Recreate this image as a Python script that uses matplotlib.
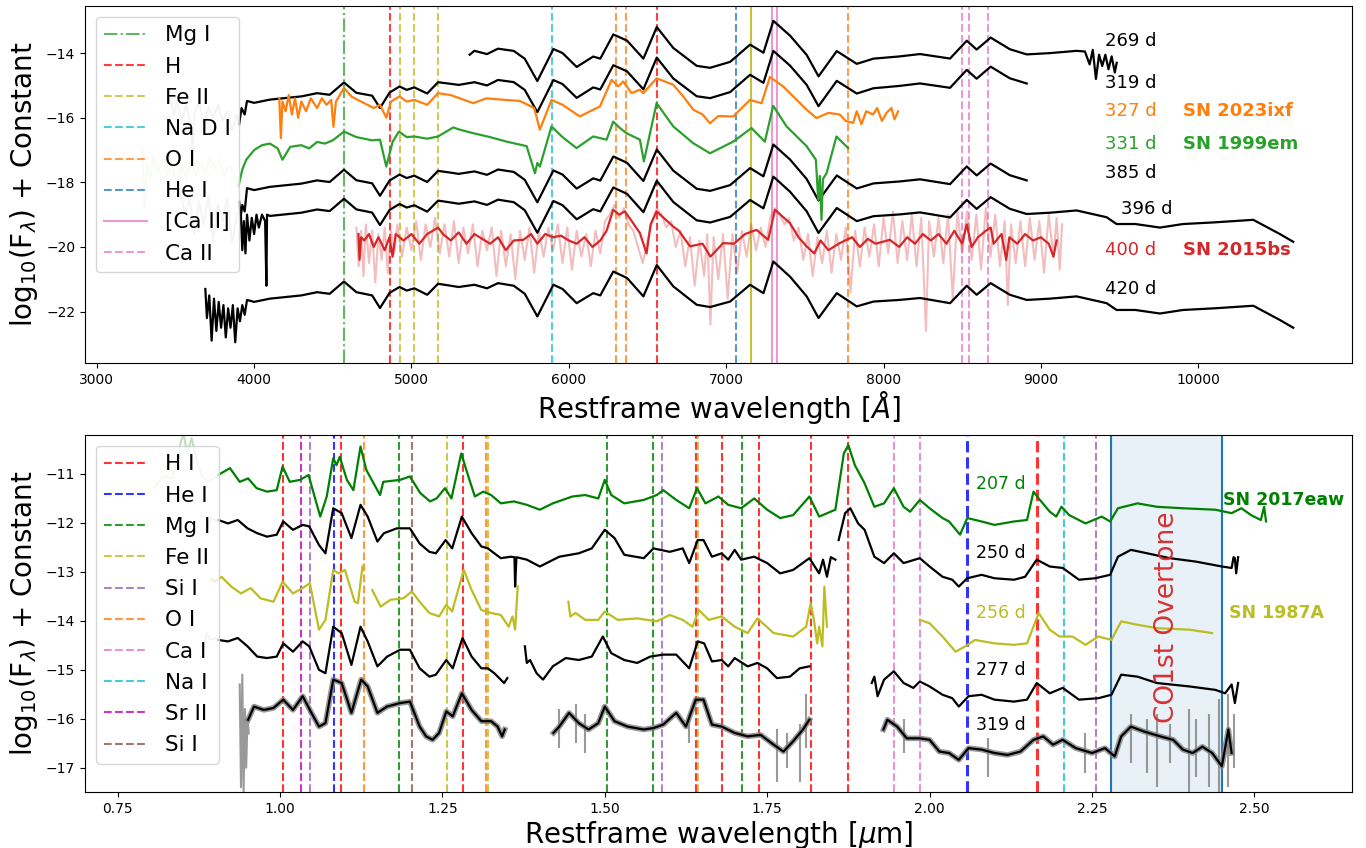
import numpy as np
import matplotlib
matplotlib.use("Agg")
import matplotlib.pyplot as plt

# ---------------- optical panel data (wavelength in Angstrom) ----------------
# relative spectral template of the late-time black spectra
tmpl_wl = [3955, 4000, 4100, 4200, 4300, 4400, 4480, 4571, 4650, 4750, 4800, 4861, 4924,
           4970, 5018, 5100, 5169, 5250, 5300, 5400, 5480, 5550, 5650, 5720, 5800, 5902,
           5960, 6050, 6155, 6200, 6283, 6370, 6474, 6559, 6664, 6813, 6898, 7025, 7152,
           7237, 7300, 7406, 7512, 7587, 7703, 7830, 7936, 8100, 8232, 8423, 8529, 8592,
           8681, 8803, 8910, 9058, 9227, 9418, 9481, 9600, 9757, 9904, 10100, 10350,
           10519, 10604]
tmpl_flux = [-21.64, -21.7, -21.6, -21.55, -21.5, -21.4, -21.45, -21.07, -21.4, -21.5,
             -21.89, -21.42, -21.24, -21.35, -21.28, -21.48, -21.14, -21.2, -21.24, -21.17,
             -21.28, -21.12, -21.2, -21.45, -22.15, -21.17, -21.3, -21.74, -21.43, -21.5,
             -20.76, -20.96, -21.53, -20.56, -21.22, -21.79, -21.86, -21.69, -21.17, -21.43,
             -20.45, -20.92, -21.53, -22.2, -21.43, -21.84, -21.69, -21.64, -21.58, -21.74,
             -21.2, -21.48, -21.12, -21.48, -21.64, -21.6, -21.53, -21.74, -21.95, -21.95,
             -22.06, -21.95, -21.9, -21.82, -22.26, -22.5]

black_days = ["269 d", "319 d", "385 d", "396 d", "420 d"]
black_start = [5370, 3950, 3950, 4100, 3955]
black_end = [9250, 8910, 8910, 10604, 10604]
black_off_blue = [7.15, 6.16, 3.46, 2.56, 0.0]   # offset near 4571 A
black_off_red = [7.6, 6.7, 3.7, 2.66, 0.0]       # offset near 8681 A

# noisy pieces at the ends of the black spectra
blue_269_wl = [5370]
blue_269_fx = [-14.05]
red_269_wl = [9280, 9310, 9330, 9350, 9370, 9390, 9410, 9430, 9450, 9470, 9482]
red_269_fx = [-13.95, -14.35, -13.9, -14.8, -14.05, -14.4, -14.05, -14.5, -14.1, -14.6, -14.3]
blue_319_wl = [3905, 3920, 3940]
blue_319_fx = [-16.2, -15.7, -15.9]
blue_385_wl = [3905, 3915, 3925, 3940]
blue_385_fx = [-18.6, -19.05, -18.7, -18.9]
blue_396_wl = [3915, 3925, 3935, 3945, 3955, 3970, 3985, 4000, 4015, 4030, 4050, 4070, 4078, 4082]
blue_396_fx = [-18.9, -20.1, -19.2, -20.2, -19.0, -19.8, -19.1, -19.6, -19.0, -19.4, -19.0,
               -19.2, -21.2, -19.0]
blue_420_wl = [3690, 3700, 3715, 3730, 3745, 3760, 3775, 3790, 3805, 3820, 3835, 3850, 3865,
               3880, 3895, 3910, 3925, 3940]
blue_420_fx = [-21.3, -22.2, -21.5, -22.9, -21.6, -22.6, -21.7, -22.5, -21.8, -22.8, -21.9,
               -22.5, -21.8, -22.95, -21.9, -22.3, -21.8, -22.1]

gray_319_wl = [3466, 3490, 3510, 3540, 3570, 3600, 3610, 3620, 3650, 3680, 3710, 3740, 3770,
               3800, 3830, 3860, 3890, 3905]
gray_319_fx = [-15.4, -15.9, -15.5, -16.1, -15.6, -16.3, -17.1, -15.9, -15.5, -16.2, -15.7,
               -16.0, -15.6, -16.1, -15.8, -16.4, -15.9, -16.2]
gray_396_wl = [3530, 3560, 3590, 3620, 3650, 3680, 3710, 3740, 3770, 3800, 3830, 3860, 3890, 3915]
gray_396_fx = [-18.2, -19.0, -18.5, -19.6, -18.6, -19.3, -18.4, -19.8, -18.7, -19.2, -18.5,
               -19.9, -19.0, -18.9]

# SN 2023ixf, 327 d
ixf_wl = [4160, 4170, 4180, 4200, 4220, 4240, 4260, 4280, 4300, 4330, 4360, 4400, 4430, 4460,
          4490, 4504, 4520, 4571, 4620, 4700, 4760, 4800, 4840, 4870, 4924, 4970, 5018, 5100,
          5169, 5250, 5393, 5476, 5600, 5689, 5780, 5816, 5890, 5960, 6070, 6198, 6272, 6314,
          6346, 6399, 6452, 6473, 6558, 6664, 6727, 6791, 6850, 6897, 6950, 7045, 7151, 7225,
          7278, 7362, 7511, 7574, 7650, 7722, 7760, 7807, 7830, 7860, 7890, 7934, 7960, 7990,
          8019, 8050, 8070, 8093]
ixf_fx = [-15.4, -16.63, -15.5, -15.8, -15.3, -15.9, -15.4, -16.0, -15.5, -15.8, -15.4, -15.7,
          -15.4, -15.6, -15.45, -16.28, -15.5, -15.08, -15.35, -15.55, -15.7, -15.6, -16.0,
          -15.5, -15.34, -15.5, -15.45, -15.6, -15.24, -15.3, -15.55, -15.4, -15.45, -15.48,
          -15.7, -16.37, -15.45, -15.6, -15.96, -15.65, -14.83, -15.03, -14.88, -15.24, -15.13,
          -15.24, -14.78, -14.98, -15.34, -15.75, -15.9, -16.17, -15.95, -15.96, -15.45, -15.55,
          -14.74, -15.03, -15.75, -16.01, -15.85, -15.9, -16.1, -16.16, -15.8, -16.2, -15.8,
          -15.9, -15.7, -16.1, -15.85, -15.7, -16.05, -15.8]

# SN 1999em, 331 d (faded blue part + main part)
em_faint_wl = [3290, 3305, 3320, 3340, 3360, 3390, 3420, 3450, 3480, 3510, 3540, 3570, 3600,
               3630, 3660, 3690, 3720, 3750, 3780, 3810, 3840, 3870, 3900]
em_faint_fx = [-17.0, -18.8, -17.4, -17.9, -17.2, -17.7, -17.3, -17.8, -17.4, -18.2, -17.5,
               -17.9, -17.3, -17.8, -17.4, -17.7, -17.2, -17.6, -17.3, -17.8, -17.5, -17.7, -18.1]
em_wl = [3900, 3925, 3950, 4000, 4050, 4100, 4150, 4180, 4230, 4300, 4350, 4400, 4450, 4500,
         4571, 4650, 4750, 4800, 4840, 4880, 4920, 4970, 5018, 5100, 5169, 5266, 5300, 5393,
         5500, 5605, 5732, 5785, 5800, 5816, 5890, 5960, 6049, 6155, 6240, 6282, 6320, 6367,
         6452, 6477, 6558, 6664, 6791, 6897, 7045, 7161, 7246, 7299, 7384, 7511, 7570, 7585,
         7595, 7606, 7615, 7638, 7701, 7775]
em_fx = [-18.13, -17.6, -17.3, -17.0, -16.85, -16.8, -16.95, -17.3, -16.9, -16.85, -16.95,
         -16.75, -16.8, -16.7, -16.43, -16.6, -16.7, -16.68, -17.51, -16.75, -16.43, -16.6,
         -16.58, -16.65, -16.58, -16.3, -16.36, -16.48, -16.6, -16.74, -16.88, -17.72, -17.4,
         -17.51, -16.27, -16.6, -16.94, -16.58, -16.68, -16.12, -16.3, -16.48, -16.68, -17.35,
         -15.55, -16.27, -16.79, -17.1, -16.74, -16.32, -16.74, -15.63, -16.27, -16.88, -17.3,
         -18.54, -17.8, -19.16, -17.9, -17.72, -16.58, -16.94]

# SN 2015bs, 400 d (binned + raw)
bs_wl = [4663, 4670, 4680, 4700, 4730, 4760, 4790, 4830, 4860, 4880, 4900, 4950, 5000, 5050,
         5100, 5169, 5200, 5250, 5300, 5350, 5400, 5450, 5500, 5550, 5600, 5650, 5711, 5760,
         5800, 5850, 5900, 5950, 6000, 6050, 6100, 6150, 6200, 6240, 6282, 6320, 6356, 6400,
         6452, 6494, 6520, 6558, 6664, 6700, 6770, 6850, 6900, 6981, 7050, 7120, 7193, 7267,
         7310, 7405, 7460, 7511, 7560, 7600, 7650, 7722, 7800, 7850, 7900, 7950, 8040, 8100,
         8150, 8200, 8250, 8300, 8350, 8400, 8450, 8500, 8529, 8560, 8600, 8650, 8681, 8700,
         8750, 8780, 8800, 8850, 8900, 8950, 9000, 9050, 9080, 9100]
bs_fx = [-19.6, -20.4, -19.7, -19.8, -19.6, -20.0, -19.7, -20.1, -19.7, -20.3, -19.6, -19.8,
         -19.6, -19.9, -19.6, -19.4, -19.6, -19.8, -19.55, -19.9, -19.6, -19.75, -19.9, -19.7,
         -20.1, -19.8, -19.78, -19.6, -19.9, -19.6, -19.7, -19.65, -19.8, -19.9, -19.7, -20.0,
         -19.8, -19.5, -18.85, -19.0, -18.9, -19.2, -19.57, -20.2, -19.3, -18.9, -19.37, -19.5,
         -19.98, -19.9, -20.3, -19.88, -19.9, -19.6, -19.47, -19.78, -18.85, -19.26, -19.7,
         -19.98, -20.2, -19.8, -20.1, -19.88, -19.7, -20.0, -19.75, -19.9, -19.78, -20.0, -19.7,
         -19.9, -19.6, -19.8, -19.6, -19.9, -19.5, -19.9, -19.3, -20.0, -19.7, -19.5, -19.4,
         -19.9, -19.6, -20.4, -19.7, -19.9, -19.6, -19.8, -19.7, -19.9, -20.3, -19.8]
bs_raw_wl = [4650, 4665, 4680, 4695, 4710, 4730, 4750, 4770, 4790, 4810, 4830, 4850, 4870,
             4890, 4910, 4940, 4970, 5000, 5030, 5060, 5090, 5120, 5150, 5180, 5210, 5240,
             5270, 5300, 5330, 5360, 5390, 5420, 5450, 5480, 5510, 5540, 5570, 5600, 5630,
             5660, 5690, 5720, 5750, 5780, 5810, 5840, 5870, 5900, 5930, 5960, 5990, 6020,
             6050, 6080, 6110, 6140, 6170, 6200, 6230, 6260, 6290, 6320, 6350, 6380, 6410,
             6440, 6470, 6500, 6530, 6560, 6590, 6620, 6650, 6680, 6710, 6740, 6770, 6800,
             6830, 6860, 6880, 6900, 6920, 6950, 6980, 7010, 7040, 7070, 7100, 7130, 7160,
             7190, 7220, 7250, 7280, 7310, 7340, 7370, 7400, 7430, 7460, 7490, 7520, 7550,
             7580, 7610, 7640, 7670, 7700, 7730, 7760, 7790, 7820, 7850, 7880, 7910, 7940,
             7970, 8000, 8030, 8060, 8090, 8120, 8150, 8180, 8210, 8240, 8270, 8290, 8320,
             8350, 8380, 8410, 8440, 8470, 8500, 8530, 8560, 8590, 8620, 8650, 8680, 8710,
             8740, 8770, 8790, 8810, 8840, 8870, 8900, 8930, 8960, 8990, 9020, 9050, 9080,
             9100, 9120, 9135]
bs_raw_fx = [-19.4, -20.6, -19.5, -20.9, -19.3, -20.5, -19.5, -21.1, -19.6, -20.4, -19.4,
             -20.8, -19.5, -20.2, -19.3, -20.3, -19.4, -20.1, -19.2, -20.4, -19.3, -20.0,
             -19.1, -20.2, -19.3, -20.3, -19.2, -20.5, -19.4, -20.2, -19.3, -20.6, -19.5,
             -20.1, -19.4, -20.9, -19.5, -20.6, -19.6, -21.0, -19.5, -20.4, -19.4, -20.8,
             -19.5, -20.3, -19.4, -20.1, -19.3, -20.5, -19.4, -20.7, -19.5, -20.3, -19.6,
             -20.6, -19.5, -20.2, -19.2, -19.0, -18.7, -19.1, -18.8, -19.3, -19.5, -20.0,
             -20.5, -19.8, -19.2, -18.8, -19.0, -19.4, -19.2, -20.0, -19.5, -20.6, -19.7,
             -21.2, -19.8, -20.9, -19.6, -22.4, -19.7, -21.0, -19.6, -21.6, -19.6, -20.8,
             -19.5, -20.3, -19.3, -20.1, -19.4, -20.0, -19.1, -18.8, -19.0, -19.3, -19.1,
             -19.8, -19.4, -20.4, -19.6, -20.9, -19.7, -20.5, -19.5, -20.8, -19.6, -20.4,
             -19.4, -21.4, -19.5, -20.6, -19.4, -20.3, -19.3, -20.6, -19.1, -20.2, -18.9,
             -20.5, -19.2, -20.4, -19.0, -20.6, -19.1, -22.6, -19.2, -20.3, -19.1, -20.5,
             -19.0, -21.6, -18.9, -20.2, -18.9, -20.4, -19.0, -20.7, -18.8, -20.3, -19.0,
             -20.6, -19.2, -21.8, -19.3, -20.5, -19.2, -20.6, -19.1, -20.4, -19.2, -20.8,
             -19.0, -20.3, -19.1, -20.7, -19.3]

opt_text = [("269 d", 9407, -13.61, "black"), ("319 d", 9407, -14.91, "black"),
            ("327 d", 9407, -15.79, "tab:orange"), ("331 d", 9407, -16.81, "tab:green"),
            ("385 d", 9407, -17.70, "black"), ("396 d", 9509, -18.81, "black"),
            ("400 d", 9407, -20.09, "tab:red"), ("420 d", 9407, -21.29, "black")]
opt_names = [("SN 2023ixf", 9905, -15.79, "tab:orange"), ("SN 1999em", 9905, -16.81, "tab:green"),
             ("SN 2015bs", 9905, -20.09, "tab:red")]

# line identifications (optical)
opt_lines = [
    ("Mg I", [4571], "tab:green", "-."),
    ("H", [4861, 6563], "red", "--"),
    ("Fe II", [4924, 5018, 5169], "tab:olive", "--"),
    ("Na D I", [5892], "tab:cyan", "--"),
    ("O I", [6300, 6364, 7774], "tab:orange", "--"),
    ("He I", [7065], "tab:blue", "--"),
    ("[Ca II]", [7291, 7324], "tab:pink", "-"),
    ("Ca II", [8498, 8542, 8662], "tab:pink", "--"),
]
fe_forbidden = [7155]

# ---------------- NIR panel data (wavelength in micron) ----------------
eaw_faint_wl = [0.808, 0.82, 0.835, 0.848, 0.852, 0.857, 0.864, 0.872, 0.88, 0.89, 0.905]
eaw_faint_fx = [-11.26, -11.05, -11.09, -10.31, -10.2, -10.58, -10.27, -10.71, -11.05, -11.16, -11.02]
eaw_wl = [0.905, 0.923, 0.938, 0.951, 0.964, 0.980, 0.995, 1.004, 1.015, 1.031, 1.044, 1.049,
          1.062, 1.072, 1.082, 1.087, 1.092, 1.103, 1.113, 1.124, 1.133, 1.154, 1.159, 1.185,
          1.200, 1.216, 1.231, 1.241, 1.254, 1.264, 1.279, 1.290, 1.300, 1.313, 1.325, 1.340,
          1.36, 1.38, 1.40, 1.42, 1.45, 1.47, 1.49, 1.50, 1.51, 1.53, 1.56, 1.58, 1.59, 1.61,
          1.63, 1.642, 1.655, 1.675, 1.69, 1.71, 1.73, 1.75, 1.77, 1.79, 1.815, 1.83, 1.855,
          1.868, 1.875, 1.885, 1.90, 1.915, 1.93, 1.945, 1.96, 1.97, 1.985, 2.00, 2.02, 2.03,
          2.047, 2.058, 2.08, 2.10, 2.13, 2.150, 2.160, 2.168, 2.185, 2.195, 2.203, 2.215, 2.24,
          2.265, 2.278, 2.29, 2.32, 2.35, 2.39, 2.44, 2.465, 2.48, 2.495, 2.51, 2.515, 2.518]
eaw_fx = [-11.02, -10.88, -11.16, -11.09, -11.29, -11.36, -11.33, -10.85, -11.16, -11.12,
          -11.02, -11.26, -11.87, -11.46, -10.68, -10.82, -10.65, -11.12, -11.33, -10.44, -10.92,
          -11.43, -11.16, -11.12, -11.05, -11.39, -11.56, -11.5, -11.29, -11.5, -10.58, -11.05,
          -11.46, -11.36, -11.43, -11.6, -11.56, -11.63, -11.73, -11.6, -11.46, -11.43, -11.5,
          -11.12, -11.43, -11.6, -11.53, -11.43, -11.33, -11.53, -11.7, -11.29, -11.6, -11.46,
          -11.63, -11.7, -11.5, -11.73, -11.9, -11.84, -11.46, -11.87, -11.73, -10.58, -10.41,
          -10.82, -11.19, -11.67, -11.6, -11.29, -11.67, -11.77, -11.53, -11.7, -11.9, -11.97,
          -12.24, -11.9, -11.97, -12.04, -11.97, -11.94, -11.36, -11.5, -11.77, -11.87, -11.67,
          -11.84, -12.01, -11.87, -11.97, -11.7, -11.6, -11.67, -11.7, -11.73, -11.8, -11.7,
          -11.84, -11.94, -11.67, -11.97]

d250_faint_wl = [0.887, 0.893, 0.90, 0.905]
d250_faint_fx = [-12.14, -11.9, -11.94, -11.94]
d250_wl = [[0.905, 0.92, 0.935, 0.95, 0.965, 0.98, 0.995, 1.005, 1.02, 1.035, 1.045, 1.06, 1.07,
            1.082, 1.095, 1.11, 1.124, 1.135, 1.15, 1.16, 1.18, 1.20, 1.215, 1.23, 1.24, 1.255,
            1.265, 1.28, 1.295, 1.31, 1.32, 1.34, 1.355, 1.361, 1.362, 1.364, 1.38, 1.40, 1.43,
            1.46, 1.48, 1.50, 1.515, 1.53, 1.56, 1.575, 1.60, 1.62, 1.63, 1.643, 1.652, 1.665,
            1.68, 1.69, 1.70, 1.71, 1.73, 1.75, 1.77, 1.79, 1.815, 1.83, 1.836, 1.842, 1.848,
            1.855],
           [1.86, 1.87, 1.878, 1.89, 1.90, 1.915, 1.93, 1.945, 1.96, 1.985, 2.00, 2.02, 2.035,
            2.045, 2.058, 2.08, 2.10, 2.13, 2.147, 2.165, 2.185, 2.205, 2.23, 2.255, 2.278, 2.29,
            2.31, 2.335, 2.37, 2.41, 2.45, 2.465, 2.468, 2.47, 2.472, 2.475]]
d250_fx = [[-11.94, -12.01, -11.94, -12.11, -12.21, -12.28, -12.24, -11.97, -12.14, -12.04,
            -12.07, -12.45, -12.62, -11.7, -11.8, -12.31, -11.63, -11.87, -12.38, -12.21, -12.11,
            -12.11, -12.42, -12.59, -12.62, -12.35, -12.52, -11.87, -12.21, -12.48, -12.52,
            -12.72, -12.69, -12.7, -13.3, -12.7, -12.75, -12.89, -12.69, -12.62, -12.52, -12.14,
            -12.31, -12.65, -12.72, -12.52, -12.59, -12.52, -12.82, -12.35, -12.35, -12.69,
            -12.62, -12.75, -12.55, -12.75, -12.69, -12.82, -13.03, -12.96, -12.72, -13.03,
            -12.75, -13.1, -12.7, -12.75],
           [-12.35, -11.8, -11.7, -12.01, -12.14, -12.69, -12.82, -12.62, -12.82, -12.72, -12.89,
            -13.1, -13.16, -13.3, -13.13, -13.06, -13.13, -13.16, -13.1, -12.75, -12.89, -12.92,
            -13.16, -13.13, -13.06, -12.69, -12.55, -12.62, -12.72, -12.79, -12.89, -12.92,
            -12.7, -12.72, -13.03, -12.7]]

a87_wl = [[0.895, 0.90, 0.91, 0.925, 0.94, 0.955, 0.97, 0.99, 1.004, 1.02, 1.035, 1.046, 1.06,
           1.07, 1.082, 1.09, 1.10, 1.115, 1.12, 1.127],
          [1.142, 1.155, 1.17, 1.19, 1.203, 1.215, 1.23, 1.245, 1.256, 1.265, 1.27, 1.283, 1.295,
           1.31, 1.325, 1.34, 1.352, 1.358, 1.362, 1.366],
          [1.444, 1.447, 1.455, 1.47, 1.49, 1.50, 1.52, 1.55, 1.58, 1.60, 1.62, 1.635, 1.645,
           1.66, 1.68, 1.70, 1.72, 1.735, 1.76, 1.79, 1.81, 1.817, 1.822, 1.827, 1.83, 1.835,
           1.838, 1.842],
          [1.985, 2.00, 2.02, 2.04, 2.055, 2.07, 2.10, 2.13, 2.15, 2.168, 2.185, 2.20, 2.22, 2.24,
           2.26, 2.28, 2.295, 2.32, 2.35, 2.40, 2.435]]
a87_fx = [[-13.15, -13.2, -13.1, -13.3, -13.44, -13.33, -13.54, -13.61, -13.2, -13.44, -13.33,
           -13.23, -14.18, -13.98, -12.96, -13.03, -12.96, -13.61, -13.64, -12.89],
          [-13.37, -13.71, -13.57, -13.54, -13.4, -13.61, -13.84, -13.91, -13.67, -13.81, -13.57,
           -12.96, -13.37, -13.78, -13.84, -13.88, -14.12, -13.91, -14.18, -13.3],
          [-13.61, -13.91, -13.84, -13.98, -13.98, -13.81, -13.98, -13.95, -14.01, -13.88, -13.98,
           -14.12, -13.78, -13.98, -13.91, -14.12, -14.25, -13.95, -14.25, -14.32, -14.12,
           -13.64, -13.98, -14.46, -14.12, -14.52, -13.3, -14.12],
          [-13.98, -14.05, -14.32, -14.63, -14.52, -14.39, -14.46, -14.49, -14.46, -13.84, -14.18,
           -14.32, -14.32, -14.49, -14.32, -14.39, -14.01, -14.08, -14.15, -14.18, -14.25]]

d277_faint_wl = [0.882, 0.887, 0.893, 0.90, 0.905]
d277_faint_fx = [-14.59, -14.25, -14.39, -14.35, -14.39]
d277_wl = [[0.905, 0.92, 0.935, 0.95, 0.965, 0.98, 0.995, 1.005, 1.02, 1.035, 1.045, 1.06, 1.07,
            1.082, 1.095, 1.11, 1.124, 1.135, 1.15, 1.165, 1.185, 1.20, 1.215, 1.23, 1.24, 1.256,
            1.266, 1.281, 1.295, 1.31, 1.32, 1.33, 1.345, 1.35],
           [1.377, 1.38, 1.385, 1.395, 1.405, 1.42, 1.44, 1.46, 1.48, 1.497, 1.51, 1.53, 1.55,
            1.57, 1.59, 1.61, 1.63, 1.643, 1.653, 1.665, 1.68, 1.69, 1.70, 1.72, 1.735, 1.75,
            1.765, 1.785, 1.80, 1.815],
           [1.911, 1.915, 1.92, 1.93, 1.945, 1.96, 1.975, 1.985, 2.00, 2.02, 2.035, 2.045, 2.06,
            2.08, 2.10, 2.13, 2.15, 2.165, 2.185, 2.205, 2.23, 2.26, 2.28, 2.295, 2.32, 2.35,
            2.40, 2.44, 2.455, 2.465, 2.47, 2.475]]
d277_fx = [[-14.39, -14.42, -14.35, -14.52, -14.73, -14.76, -14.73, -14.46, -14.63, -14.42,
            -14.52, -15.0, -15.07, -14.12, -14.25, -14.9, -14.12, -14.42, -14.93, -14.73, -14.59,
            -14.59, -14.97, -15.14, -15.1, -14.8, -14.97, -14.35, -14.73, -14.97, -14.97, -15.07,
            -15.27, -15.17],
           [-14.52, -14.86, -14.8, -15.07, -15.2, -14.93, -14.76, -14.8, -14.73, -14.32, -14.66,
            -14.8, -14.86, -14.73, -14.69, -14.69, -14.97, -14.42, -14.46, -14.83, -14.8, -14.93,
            -14.76, -14.93, -14.86, -14.97, -15.17, -15.14, -14.97, -14.93],
           [-15.27, -15.14, -15.54, -15.2, -15.03, -15.27, -15.37, -15.24, -15.34, -15.51, -15.58,
            -15.75, -15.54, -15.51, -15.61, -15.65, -15.61, -15.27, -15.48, -15.37, -15.61, -15.58,
            -15.51, -15.1, -15.14, -15.27, -15.34, -15.41, -15.48, -15.3, -15.68, -15.27]]

d319_wl = [[0.951, 0.96, 0.975, 0.99, 1.005, 1.02, 1.035, 1.046, 1.06, 1.07, 1.082, 1.095, 1.11,
            1.125, 1.135, 1.15, 1.165, 1.185, 1.20, 1.215, 1.225, 1.235, 1.245, 1.256, 1.266,
            1.28, 1.295, 1.31, 1.325, 1.335, 1.342, 1.346],
           [1.421, 1.43, 1.445, 1.46, 1.475, 1.49, 1.50, 1.515, 1.535, 1.56, 1.575, 1.59, 1.61,
            1.625, 1.64, 1.652, 1.665, 1.68, 1.70, 1.72, 1.74, 1.76, 1.775, 1.79, 1.805, 1.815],
           [1.929, 1.935, 1.95, 1.965, 1.985, 2.00, 2.015, 2.03, 2.045, 2.06, 2.08, 2.10, 2.12,
            2.14, 2.16, 2.175, 2.19, 2.205, 2.225, 2.25, 2.27, 2.285, 2.295, 2.31, 2.33, 2.355,
            2.375, 2.39, 2.405, 2.42, 2.435, 2.45, 2.46, 2.465]]
d319_fx = [[-16.02, -15.75, -15.82, -15.78, -15.61, -15.82, -15.54, -15.82, -16.16, -16.09, -15.2,
            -15.27, -15.88, -15.2, -15.34, -15.88, -15.75, -15.68, -15.65, -16.16, -16.36, -16.43,
            -16.29, -15.85, -15.95, -15.48, -15.82, -16.05, -16.05, -16.16, -16.36, -16.22],
           [-16.29, -16.16, -15.88, -16.09, -16.22, -16.09, -15.75, -16.05, -16.16, -16.22, -16.19,
            -16.12, -15.88, -16.16, -15.61, -15.61, -16.12, -16.16, -16.29, -16.36, -16.33,
            -16.53, -16.67, -16.46, -16.22, -16.02],
           [-16.22, -16.02, -16.16, -16.4, -16.4, -16.43, -16.67, -16.7, -16.84, -16.6, -16.63,
            -16.7, -16.74, -16.67, -16.43, -16.36, -16.53, -16.43, -16.6, -16.7, -16.6, -16.77,
            -16.36, -16.16, -16.26, -16.36, -16.43, -16.63, -16.7, -16.57, -16.7, -16.97, -16.22,
            -16.7]]
d319_noise_wl = [0.938, 0.940, 0.942, 0.944, 0.946, 0.948, 0.950, 0.952]
d319_noise_fx = [-15.3, -17.4, -15.1, -17.5, -15.8, -17.0, -16.0, -16.3]
# gray spikes of the unbinned 319 d spectrum
spike_wl = [1.43, 1.455, 1.47, 1.63, 1.765, 1.78, 1.8, 1.81, 2.31, 2.335, 2.35, 2.37, 2.40, 2.41,
            2.43, 2.445, 2.46, 2.468, 2.09, 2.24, 1.96]
spike_lo = [-16.6, -16.5, -16.7, -16.5, -17.3, -17.0, -17.3, -16.6, -16.9, -17.1, -17.4, -16.9,
            -17.5, -17.2, -17.4, -17.5, -17.4, -17.0, -17.2, -17.1, -16.7]
spike_hi = [-15.8, -15.7, -15.9, -15.9, -16.2, -16.3, -16.1, -15.5, -15.9, -16.0, -15.9, -16.1,
            -15.8, -16.0, -15.9, -15.6, -15.5, -15.9, -16.4, -16.3, -16.0]

nir_text = [("207 d", 2.0714, -11.21, "green"), ("250 d", 2.0714, -12.62, "black"),
            ("256 d", 2.0714, -13.83, "tab:olive"), ("277 d", 2.0714, -15.01, "black"),
            ("319 d", 2.0714, -16.12, "black")]
nir_names = [("SN 2017eaw", 2.4512, -11.53, "green"), ("SN 1987A", 2.4614, -13.83, "tab:olive")]

nir_lines = [
    ("H I", [1.0049, 1.0938, 1.2818, 1.6411, 1.6811, 1.7367, 1.8179, 1.8751, 2.1655], "red"),
    ("He I", [1.0830, 2.0581], "blue"),
    ("Mg I", [1.1828, 1.5040, 1.5749, 1.7109], "green"),
    ("Fe II", [1.2567, 1.3206, 1.6440], "tab:olive"),
    ("Si I", [1.0462, 1.5888, 2.2566], "tab:purple"),
    ("O I", [1.1287, 1.3165], "tab:orange"),
    ("Ca I", [1.9453, 1.9850], "tab:pink"),
    ("Na I", [2.2062], "tab:cyan"),
    ("Sr II", [1.0327], "m"),
    ("Si I", [1.2032], "tab:brown"),
]
thick_lines = [2.0581, 2.1655]
co_band = (2.28, 2.45)

# ---------------- figure ----------------
fig = plt.figure(figsize=(13.66, 8.48), dpi=100)
ax1 = fig.add_axes([0.0622, 0.572, 0.9275, 0.421])
ax2 = fig.add_axes([0.0622, 0.066, 0.9275, 0.421])

# optical lines
for name, wls, col, ls in opt_lines:
    for i, w in enumerate(wls):
        ax1.axvline(w, color=col, ls=ls, lw=1.5, alpha=0.75, label=name if i == 0 else None, zorder=1)
for w in fe_forbidden:
    ax1.axvline(w, color="tab:olive", ls="-", lw=1.5, alpha=0.9, zorder=1)

# optical spectra
tw = np.array(tmpl_wl)
tf = np.array(tmpl_flux)
extra_blue = {"269 d": (blue_269_wl, blue_269_fx), "319 d": (blue_319_wl, blue_319_fx),
              "385 d": (blue_385_wl, blue_385_fx), "396 d": (blue_396_wl, blue_396_fx),
              "420 d": (blue_420_wl, blue_420_fx)}
for day, s, e, ob, orr in zip(black_days, black_start, black_end, black_off_blue, black_off_red):
    m = (tw >= s) & (tw <= e)
    off = np.interp(tw[m], [4571, 8681], [ob, orr])
    bw, bf = extra_blue[day]
    x = list(bw) + list(tw[m])
    y = list(bf) + list(tf[m] + off)
    if day == "269 d":
        x += red_269_wl
        y += red_269_fx
    ax1.plot(x, y, color="black", lw=1.6, zorder=3)

ax1.plot(gray_319_wl, gray_319_fx, color="gray", alpha=0.4, lw=1.5, zorder=2)
ax1.plot(gray_396_wl, gray_396_fx, color="gray", alpha=0.4, lw=1.5, zorder=2)
ax1.plot(em_faint_wl, em_faint_fx, color="tab:green", alpha=0.2, lw=1.5, zorder=2)
ax1.plot(em_wl, em_fx, color="tab:green", lw=1.6, zorder=3)
ax1.plot(ixf_wl, ixf_fx, color="tab:orange", lw=1.6, zorder=3)
ax1.plot(bs_raw_wl, bs_raw_fx, color="tab:red", alpha=0.3, lw=1.5, zorder=2)
ax1.plot(bs_wl, bs_fx, color="tab:red", lw=1.6, zorder=3)

for t, x, y, c in opt_text:
    ax1.text(x, y, t, color=c, fontsize=13, va="center", ha="left")
for t, x, y, c in opt_names:
    ax1.text(x, y, t, color=c, fontsize=13, va="center", ha="left", fontweight="bold")

ax1.set_xlim(2925, 10977)
ax1.set_ylim(-23.59, -12.54)
ax1.set_xticks(np.arange(3000, 10001, 1000))
ax1.set_yticks([-22, -20, -18, -16, -14])
ax1.tick_params(labelsize=10)
ax1.set_xlabel(r"Restframe wavelength [$\AA$]", fontsize=20, labelpad=2)
ax1.set_ylabel(r"log$_{10}$(F$_\lambda$) + Constant", fontsize=20)
ax1.legend(loc="upper left", fontsize=15.5, labelspacing=0.52, borderaxespad=0.5)

# NIR lines
for name, wls, col in nir_lines:
    for i, w in enumerate(wls):
        lw = 2.2 if w in thick_lines else 1.5
        ax2.axvline(w, color=col, ls="--", lw=lw, alpha=0.8, label=name if i == 0 else None, zorder=1)

ax2.axvspan(co_band[0], co_band[1], color="tab:blue", alpha=0.1, zorder=0)
for w in co_band:
    ax2.axvline(w, color="tab:blue", lw=1.5, zorder=1)

# NIR spectra
ax2.plot(eaw_faint_wl, eaw_faint_fx, color="green", alpha=0.25, lw=1.5, zorder=2)
ax2.plot(eaw_wl, eaw_fx, color="green", lw=1.6, zorder=3)
ax2.plot(d250_faint_wl, d250_faint_fx, color="gray", alpha=0.4, lw=1.5, zorder=2)
for x, y in zip(d250_wl, d250_fx):
    ax2.plot(x, y, color="black", lw=1.6, zorder=3)
for x, y in zip(a87_wl, a87_fx):
    ax2.plot(x, y, color="tab:olive", lw=1.6, zorder=3)
ax2.plot(d277_faint_wl, d277_faint_fx, color="gray", alpha=0.4, lw=1.5, zorder=2)
for x, y in zip(d277_wl, d277_fx):
    ax2.plot(x, y, color="black", lw=1.6, zorder=3)
ax2.plot(d319_noise_wl, d319_noise_fx, color="gray", alpha=0.8, lw=1.5, zorder=2)
ax2.vlines(spike_wl, spike_lo, spike_hi, color="gray", alpha=0.8, lw=1.5, zorder=2)
for x, y in zip(d319_wl, d319_fx):
    ax2.plot(x, y, color="gray", alpha=0.8, lw=4, zorder=2)
    ax2.plot(x, y, color="black", lw=1.6, zorder=3)

for t, x, y, c in nir_text:
    ax2.text(x, y, t, color=c, fontsize=12.5, va="center", ha="left")
for t, x, y, c in nir_names:
    ax2.text(x, y, t, color=c, fontsize=12.5, va="center", ha="left", fontweight="bold")
ax2.text(2.366, -13.92, "CO1st Overtone", color="tab:red", fontsize=19, rotation=90,
         ha="center", va="center", alpha=0.95, zorder=5)

ax2.set_xlim(0.6998, 2.6502)
ax2.set_ylim(-17.497, -10.204)
ax2.set_xticks(np.arange(0.75, 2.51, 0.25))
ax2.set_xticklabels(["%.2f" % v for v in np.arange(0.75, 2.51, 0.25)])
ax2.set_yticks(np.arange(-17, -10.5, 1))
ax2.tick_params(labelsize=10)
ax2.set_xlabel(r"Restframe wavelength [$\mu$m]", fontsize=20, labelpad=2)
ax2.set_ylabel(r"log$_{10}$(F$_\lambda$) + Constant", fontsize=20)
ax2.legend(loc="upper left", fontsize=15.5, labelspacing=0.52, borderaxespad=0.5)

fig.savefig("out.png", dpi=100)
